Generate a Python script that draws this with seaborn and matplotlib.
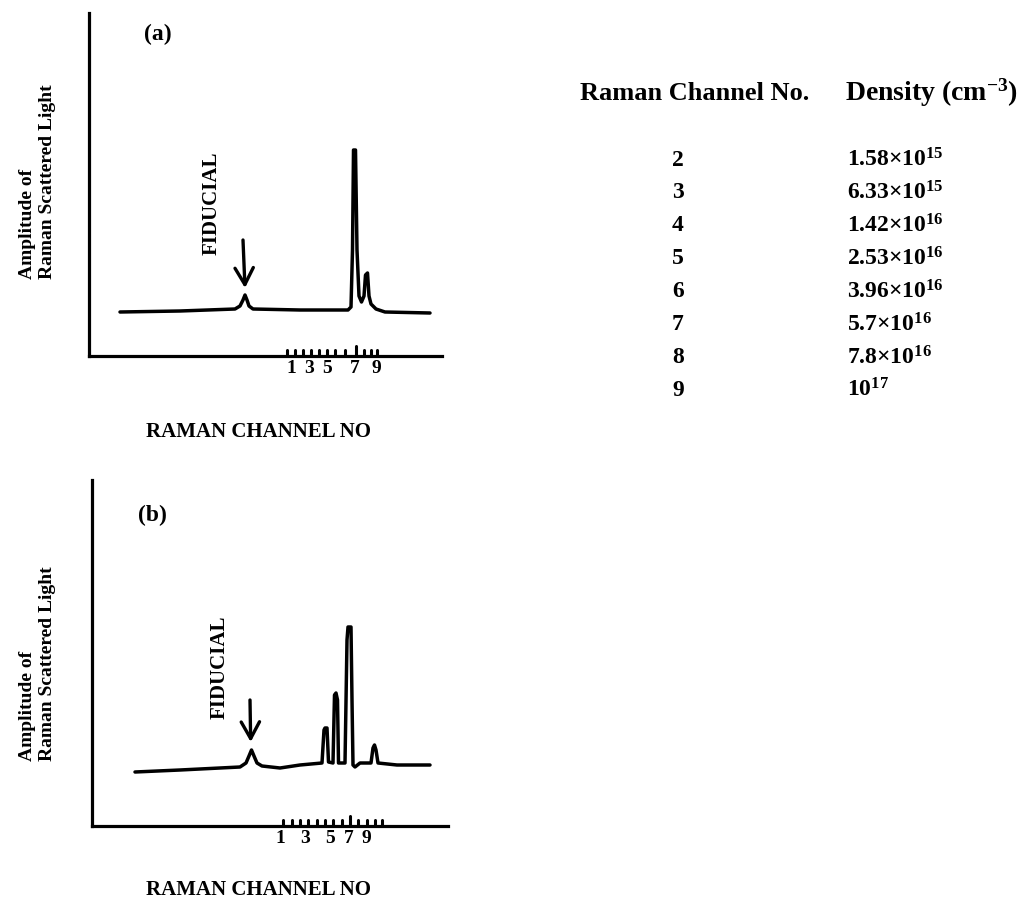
import matplotlib
matplotlib.use("Agg")
import matplotlib.pyplot as plt
import seaborn as sns
import pandas as pd

# ---------------- data ----------------
# Panel (a) trace: position along sweep (arb. units) and amplitude (arb. units)
a_pos = [31, 91, 146, 151, 154, 156, 158, 160, 164, 211, 259, 262, 263.5, 264.5,
         266.5, 268, 270, 272.5, 275, 276.5, 278.5, 280, 282, 287, 296, 341]
a_amp = [44, 45, 47, 50, 56, 61, 56, 50, 47, 46, 46, 49, 106, 206,
         206, 106, 60, 54, 60, 81, 83, 60, 52, 47, 44, 43]
a_tick_pos = [198, 206, 214, 222, 230, 238, 246, 256, 267, 275, 282, 288]
a_tick_len = [6, 6, 6, 6, 6, 6, 6, 6, 10, 6, 6, 6]
a_label_pos = [202, 220, 238, 266, 287]

# Panel (b) trace
b_pos = [43, 88, 148, 154, 157, 159.5, 162, 165, 170, 188, 208, 230, 232, 233,
         235, 236.5, 241, 242.5, 244, 245.5, 246.5, 253, 255, 256, 259, 260, 261,
         263, 268, 279, 281, 282.5, 284, 286, 305, 338]
b_amp = [54, 56, 59, 63, 70, 76, 70, 63, 60, 58, 61, 63, 96, 98,
         98, 64, 63, 131, 133, 126, 63, 63, 186, 199, 199, 126, 61,
         59, 63, 63, 78, 81, 76, 63, 61, 61]
b_tick_pos = [191, 200, 208, 216, 225, 233, 241, 250, 258, 266, 275, 283, 290]
b_tick_len = [6, 6, 6, 6, 6, 6, 6, 6, 10, 6, 6, 6, 6]
b_label_pos = [188, 213, 238, 257, 274]

tick_labels = ["1", "3", "5", "7", "9"]

# Density table
table_channels = ["2", "3", "4", "5", "6", "7", "8", "9"]
table_density = ["1.58×$10^{15}$", "6.33×$10^{15}$", "1.42×$10^{16}$", "2.53×$10^{16}$",
                 "3.96×$10^{16}$", "5.7×$10^{16}$", "7.8×$10^{16}$", "$10^{17}$"]

# ---------------- style ----------------
sns.set_theme(style="white")
plt.rcParams["font.family"] = ["Liberation Serif", "DejaVu Serif"]
plt.rcParams["font.weight"] = "bold"
plt.rcParams["mathtext.fontset"] = "custom"
plt.rcParams["mathtext.rm"] = "Liberation Serif:bold"
plt.rcParams["mathtext.it"] = "Liberation Serif:bold"
plt.rcParams["mathtext.bf"] = "Liberation Serif:bold"
plt.rcParams["mathtext.default"] = "rm"

W, H = 1026, 908
fig = plt.figure(figsize=(W / 100, H / 100), dpi=100)


def fx(px):
    return px / W


def fy(py):
    return 1 - py / H


def make_panel(left, top, right, bottom, pos, amp, tpos, tlen, lpos,
               arrow_start, arrow_end):
    ax = fig.add_axes([fx(left), fy(bottom), (right - left) / W, (bottom - top) / H])
    ax.set_xlim(0, right - left)
    ax.set_ylim(0, bottom - top)
    df = pd.DataFrame({"pos": pos, "amp": amp})
    sns.lineplot(data=df, x="pos", y="amp", sort=False, estimator=None,
                 color="black", lw=2.5, ax=ax, solid_joinstyle="round",
                 solid_capstyle="round")
    vl = ax.vlines(tpos, 0, tlen, color="black", lw=2.2)
    vl.set_capstyle("round")
    for s in ["top", "right"]:
        ax.spines[s].set_visible(False)
    for s in ["left", "bottom"]:
        ax.spines[s].set_linewidth(2.3)
        ax.spines[s].set_color("black")
    ax.set_yticks([])
    ax.set_xticks(lpos)
    ax.set_xticklabels(tick_labels, fontsize=14, fontweight="bold")
    ax.tick_params(axis="x", length=0, pad=3, colors="black")
    ax.set_xlabel("")
    ax.set_ylabel("")
    ax.annotate("", xy=arrow_end, xytext=arrow_start,
                arrowprops=dict(arrowstyle="->,head_length=1.0,head_width=0.55",
                                lw=2.4, color="black", shrinkA=0, shrinkB=0))
    return ax


# Panel (a)
make_panel(89, 13, 442, 356, a_pos, a_amp, a_tick_pos, a_tick_len, a_label_pos,
           (154, 116), (156, 68))
# Panel (b)
make_panel(92, 480, 448, 826, b_pos, b_amp, b_tick_pos, b_tick_len, b_label_pos,
           (158, 126), (158.7, 84))

txt = dict(color="black", fontweight="bold")

# panel letters
fig.text(fx(158), fy(34), "(a)", fontsize=17, ha="center", va="center", **txt)
fig.text(fx(152), fy(515), "(b)", fontsize=17, ha="center", va="center", **txt)

# FIDUCIAL labels
fig.text(fx(212), fy(203), "FIDUCIAL", fontsize=15, rotation=90,
         ha="center", va="center", **txt)
fig.text(fx(220), fy(667), "FIDUCIAL", fontsize=15, rotation=90,
         ha="center", va="center", **txt)

# y labels
for bottom_px in (279, 761):
    fig.text(fx(27), fy(bottom_px), "Amplitude of", fontsize=14, rotation=90,
             ha="center", va="bottom", **txt)
    fig.text(fx(48), fy(bottom_px), "Raman Scattered Light", fontsize=14,
             rotation=90, ha="center", va="bottom", **txt)

# x labels
fig.text(fx(258), fy(432), "RAMAN CHANNEL NO", fontsize=15, ha="center",
         va="center", **txt)
fig.text(fx(258), fy(890), "RAMAN CHANNEL NO", fontsize=15, ha="center",
         va="center", **txt)

# table
fig.text(fx(580), fy(93), "Raman Channel No.", fontsize=19, ha="left",
         va="center", **txt)
fig.text(fx(845), fy(93), "Density (cm$^{-3}$)", fontsize=20, ha="left",
         va="center", **txt)
for i, (ch, d) in enumerate(zip(table_channels, table_density)):
    y = 160 + 32.9 * i
    fig.text(fx(678), fy(y), ch, fontsize=17, ha="center", va="center", **txt)
    fig.text(fx(847), fy(y), d, fontsize=17, ha="left", va="center", **txt)

fig.savefig("out.png", dpi=100, facecolor="white")
